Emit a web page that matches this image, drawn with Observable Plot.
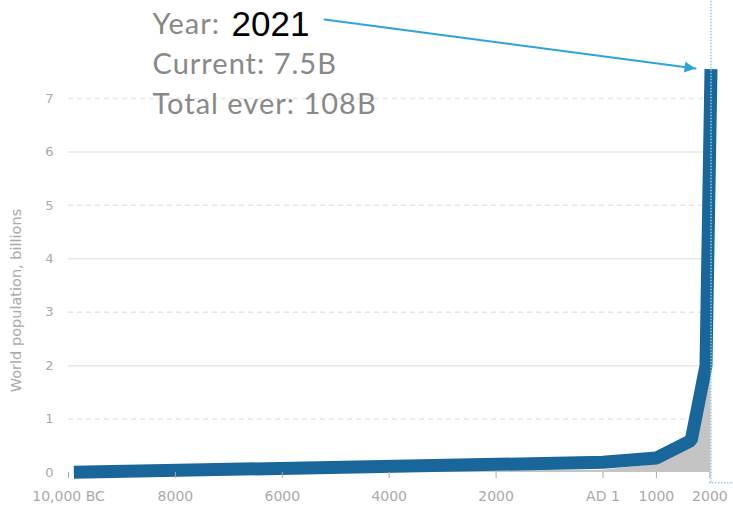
<!DOCTYPE html>
<html><head><meta charset="utf-8">
<script src="https://cdn.jsdelivr.net/npm/d3@7"></script>
<script src="https://cdn.jsdelivr.net/npm/@observablehq/plot@0.6"></script>
<style>body{margin:0;background:#fff;} #chart{position:relative;width:733px;height:510px;}</style>
</head><body><div id="chart"></div>
<script>
// Data
const lineYears = [-9900, 1, 1000, 1650, 1927, 2021];
const linePop = [0.004, 0.19, 0.27, 0.6, 2.0, 7.55];
const shadeYears = [-10000, 1, 1000, 1680, 2021];
const shadePop = [0, 0.04, 0.15, 0.56, 1.97];
const xTickYears = [-10000, -8000, -6000, -4000, -2000, 0, 1000, 2000];
const xTickLabels = ["10,000 BC", "8000", "6000", "4000", "2000", "AD 1", "1000", "2000"];
const yTicks = [0, 1, 2, 3, 4, 5, 6, 7];
const solidGrid = [2, 4, 6];
const dashedGrid = [1, 3, 5, 7];
const currentYear = 2021;
const currentLabel = "7.5B";
const totalEverLabel = "108B";
const yAxisTitle = "World population, billions";
const arrowFrom = {year: -5210, pop: 8.48};
const arrowTo = {year: 1731, pop: 7.56};

const blue = "#19679a";
const arrowColor = "#2ea2dc";
const gray = "#a9a9a9";
const textGray = "#888888";

const lineData = lineYears.map((year, i) => ({year, pop: linePop[i]}));
const shadeData = shadeYears.map((year, i) => ({year, pop: shadePop[i]}));

const svg = Plot.plot({
  width: 733,
  height: 510,
  marginLeft: 68,
  marginRight: 22.5,
  marginTop: 98,
  marginBottom: 38,
  style: {fontFamily: "DejaVu Sans", fontSize: "14px", background: "#fff", overflow: "visible"},
  x: {domain: [-10000, 2021]},
  y: {domain: [0, 7]},
  marks: [
    Plot.ruleY(solidGrid, {stroke: "#e6e6e6", strokeWidth: 1.5}),
    Plot.ruleY(dashedGrid, {stroke: "#e6e6e6", strokeWidth: 1.5, strokeDasharray: "5,4"}),
    Plot.areaY(shadeData, {x: "year", y: "pop", fill: "#c4c4c4"}),
    Plot.line(lineData, {x: "year", y: "pop", stroke: blue, strokeWidth: 13, strokeLinecap: "butt", strokeLinejoin: "miter"}),
    Plot.ruleX([currentYear], {y1: -0.19, y2: 8.84, stroke: "#8ccde9", strokeWidth: 1.5, strokeDasharray: "1.5,1.5"}),
    Plot.ruleY([-0.19], {x1: currentYear - 30, x2: currentYear + 500, stroke: "#8ccde9", strokeWidth: 1.5, strokeDasharray: "1.5,1.5"}),
    Plot.axisX({ticks: xTickYears, tickFormat: d => xTickLabels[xTickYears.indexOf(d)], tickSize: 6, tickPadding: 13, fontSize: 14, color: gray, label: null}),
    Plot.axisY({ticks: yTicks, tickFormat: d => String(d), tickSize: 0, tickPadding: 15, fontSize: 13, color: gray, label: null}),
    Plot.text([yAxisTitle], {frameAnchor: "left", text: d => d, rotate: -90, textAnchor: "middle", dx: -52, dy: 15, fill: gray, fontSize: 14.5}),
    Plot.line([arrowFrom, arrowTo], {x: "year", y: "pop", stroke: arrowColor, strokeWidth: 2}),
    Plot.text(["Year:"], {frameAnchor: "top-left", text: d => d, dx: 84, dy: -65, lineAnchor: "bottom", textAnchor: "start", fill: textGray, fontSize: 29, fontFamily: "Lato"}),
    Plot.text([String(currentYear)], {frameAnchor: "top-left", text: d => d, dx: 163, dy: -63, lineAnchor: "bottom", textAnchor: "start", fill: "#000", fontSize: 35, fontFamily: "Liberation Sans"}),
    Plot.text(["Current: " + currentLabel], {frameAnchor: "top-left", text: d => d, dx: 84, dy: -25, lineAnchor: "bottom", textAnchor: "start", fill: textGray, fontSize: 29, fontFamily: "Lato"}),
    Plot.text(["Total ever: " + totalEverLabel], {frameAnchor: "top-left", text: d => d, dx: 84, dy: 15, lineAnchor: "bottom", textAnchor: "start", fill: textGray, fontSize: 29, fontFamily: "Lato"})
  ]
});

const s = d3.select(svg);
// wider tracking for the headline text
s.selectAll("g").filter(function() { return this.getAttribute("font-family") === "Lato"; }).attr("letter-spacing", "1");
// filled arrowhead on the pointer line
s.append("defs").append("marker")
  .attr("id", "arrowhead").attr("viewBox", "0 0 10 10").attr("refX", 10).attr("refY", 5)
  .attr("markerUnits", "userSpaceOnUse").attr("markerWidth", 12).attr("markerHeight", 11).attr("orient", "auto")
  .append("path").attr("d", "M0,0L10,5L0,10Z").attr("fill", arrowColor);
s.selectAll("g").filter(function() { return this.getAttribute("stroke") === arrowColor && this.getAttribute("aria-label") === "line"; })
  .selectAll("path").attr("marker-end", "url(#arrowhead)");

document.getElementById("chart").appendChild(svg);
</script>
</body></html>
